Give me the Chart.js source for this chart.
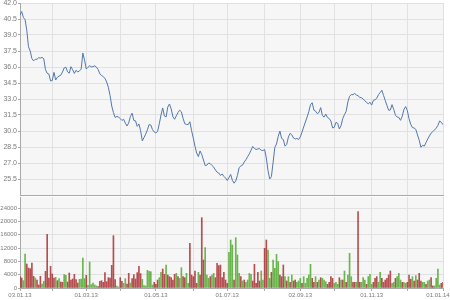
<!DOCTYPE html>
<html>
<head>
<meta charset="utf-8">
<script src="https://cdn.jsdelivr.net/npm/chart.js@4.4.0/dist/chart.umd.min.js"></script>
<style>
  html, body { margin: 0; padding: 0; background: #fff; }
  #wrap { position: relative; width: 450px; height: 300px; overflow: hidden; }
  #top { position: absolute; left: 0; top: 0; width: 450px; height: 196px; }
  #bot { position: absolute; left: 0; top: 196px; width: 450px; height: 104px; }
</style>
</head>
<body>
<div id="wrap">
  <div id="top"><canvas id="priceChart"></canvas></div>
  <div id="bot"><canvas id="volChart"></canvas></div>
</div>
<script>
// Daily close, one value per trading day (03.01.13 .. 01.01.14)
const price = [
  40.87, 41.2, 40.64, 40.44, 39.43, 37.9, 37.5, 36.79, 36.57, 36.73,
  36.72, 36.87, 36.84, 36.9, 36.77, 35.75, 35.41, 35.34, 34.69, 34.74,
  35.5, 34.78, 35.04, 35.15, 35.23, 35.53, 35.91, 35.98, 35.55, 35.42,
  36.03, 35.74, 35.4, 35.7, 35.53, 35.63, 35.8, 37.31, 36.64, 35.81,
  35.97, 36.12, 36.01, 36.04, 36.11, 35.99, 35.76, 35.36, 35.21, 35.09,
  34.94, 34.6, 34.11, 33.34, 32.34, 31.73, 31.27, 31.36, 31.32, 31.16,
  30.99, 31.1, 30.74, 30.47, 30.77, 31.36, 31.67, 30.99, 30.95, 30.44,
  30.66, 30.03, 29.07, 29.39, 29.71, 30.11, 30.6, 30.56, 30.13, 29.91,
  29.81, 29.97, 30.68, 31.5, 32.16, 31.41, 31.31, 32.25, 32.53, 32.06,
  31.34, 31.1, 31.42, 31.73, 31.95, 31.8, 31.18, 30.68, 30.62, 30.6,
  30.87, 30.03, 29.34, 28.58, 27.93, 27.6, 28.13, 27.79, 27.28, 26.76,
  26.8, 26.99, 26.94, 26.77, 26.62, 26.35, 26.14, 26.06, 25.83, 25.97,
  25.75, 25.59, 25.36, 25.63, 25.93, 25.38, 25.11, 25.32, 25.84, 26.57,
  26.72, 26.8, 27.1, 27.31, 27.59, 27.86, 28.2, 28.55, 28.36, 28.26,
  28.32, 28.35, 28.19, 28.17, 28.26, 27.47, 26.28, 25.5, 25.72, 27.07,
  28.47, 28.78, 29.49, 30.0, 29.3, 29.2, 28.58, 28.74, 29.44, 29.78,
  29.64, 29.34, 29.25, 29.3, 29.2, 29.45, 29.89, 30.38, 30.84, 31.31,
  31.81, 32.46, 32.65, 31.95, 31.86, 31.63, 31.74, 32.19, 31.45, 31.31,
  31.59, 31.27, 31.17, 30.94, 30.29, 30.35, 30.81, 30.72, 30.19, 30.51,
  31.17, 31.54, 31.85, 32.72, 33.25, 33.42, 33.4, 33.52, 33.38, 33.3,
  33.16, 33.12, 33.0, 32.83, 32.68, 32.55, 32.7, 32.43, 32.87, 32.93,
  33.07, 33.41, 33.6, 33.82, 33.34, 32.86, 32.39, 31.95, 31.97, 32.47,
  32.02, 31.48, 31.31, 31.28, 31.0, 31.38, 32.02, 32.29, 31.92, 31.15,
  30.63, 30.32, 30.28, 30.15, 29.63, 29.14, 28.47, 28.66, 28.59, 28.92,
  29.25, 29.53, 29.8, 29.94, 30.1, 30.27, 30.52, 30.94, 30.82, 30.59
];

// Daily volume
const volume = [
  3400, 3000, 2200, 10200, 7200, 6000, 5800, 7500, 3500, 3000,
  2400, 900, 3500, 1200, 2000, 5000, 16100, 3000, 6500, 4200,
  3000, 3200, 2200, 2800, 1800, 1700, 4000, 3800, 1800, 4500,
  2400, 2700, 4100, 2500, 1500, 2600, 2700, 9000, 2800, 3800,
  800, 7800, 1000, 1500, 900, 600, 400, 2000, 2200, 1700,
  4600, 1900, 3100, 3000, 6800, 15700, 2500, 600, 300, 3100,
  2000, 1400, 2800, 1200, 4400, 1500, 2800, 4000, 2700, 4600,
  6500, 4300, 2600, 700, 600, 5300, 5000, 4900, 900, 1700,
  1100, 2400, 3100, 4700, 5700, 4100, 6900, 3900, 3400, 3100,
  2400, 4100, 4400, 3400, 2900, 6100, 3400, 3100, 4400, 1400,
  13400, 3900, 3400, 5100, 1400, 4700, 3900, 21100, 8400, 12100,
  3900, 2900, 3400, 3900, 4400, 3100, 7400, 6700, 6900, 3100,
  4700, 2400, 1400, 10700, 14400, 12900, 2400, 15100, 9900, 4400,
  3400, 2100, 2400, 1700, 2400, 4400, 4100, 2100, 7100, 1400,
  4700, 2100, 5100, 2400, 11900, 14400, 11400, 2900, 4700, 8400,
  5900, 10100, 7900, 3900, 3400, 6900, 3400, 2100, 3400, 1700,
  3900, 2100, 2400, 1700, 2100, 2900, 1400, 3400, 1400, 2900,
  3900, 7100, 2900, 1700, 3400, 1700, 2400, 3100, 2900, 2400,
  1900, 1100, 1700, 3400, 2900, 1400, 1700, 1100, 3100, 2400,
  2400, 5100, 1700, 3900, 10400, 3400, 1700, 1700, 1700, 22900,
  1700, 1700, 3100, 2400, 1100, 3400, 4100, 1100, 1700, 2900,
  3400, 1700, 4700, 2900, 1700, 2400, 2900, 3900, 5100, 1400,
  1700, 2900, 3400, 4400, 2400, 1700, 1700, 1400, 1700, 3900,
  2600, 3400, 2100, 3700, 2400, 4400, 2100, 1700, 1700, 1100,
  2100, 2400, 3100, 600, 600, 2900, 5700, 900, 1400, 1700
];

// g = up day, r = down day
const volDir = (
  "rrggrrrrrg" + "rrrggrrrrr" + "rgrgrrggrr" + "rrrrrggggr" + "ggggggrrrr" +
  "rrrrrrrggr" + "rggrrgrrrr" + "rrggggg" +
  "ggrrrggrrg" + "rrrrrgrggr" + "rggrrrrrgr" + "rrgggrggrr" + "rrrrrrgggr" +
  "gggrgrgggg" + "rrrrrggrrg" + "grggggrrrg" + "rgrgrrgg" +
  "grgggggrrg" + "rgrgggrrrr" + "gggrgrgrgg" + "grrgrrgggr" + "gggrrrggrr" +
  "rrrrggrggg" + "rggrrrgrgr" + "rrggrggrrg" + "gggrr"
).split("");

// month starts (trading-day index) and their labels
const monthIdx = [0, 19, 39, 59, 80, 102, 122, 144, 165, 185, 207, 228, 249];
const monthLabels = ["03.01.13", "", "01.03.13", "", "01.05.13", "", "01.07.13", "",
  "02.09.13", "", "01.11.13", "", "01.01.14"];

const priceTicks = [25.5, 27, 28.5, 30, 31.5, 33, 34.5, 36, 37.5, 39, 40.5, 42];
const volTicks = [0, 4000, 8000, 12000, 16000, 20000, 24000];

const LINE = "#5378ad", UP = "rgba(72,165,36,0.8)", DOWN = "rgba(165,38,38,0.8)";
const GRID = "#e1e1e1", AXIS = "#a9a9a9", TXT = "#7a7a7a";
const FONT = { family: "Liberation Sans", size: 6 };
const FONT_P = { family: "Liberation Sans", size: 7 };
const days = price.map((_, i) => i);

const plotBg = {
  id: "plotBg",
  beforeDraw(c) {
    const { ctx, chartArea: a } = c;
    ctx.save();
    ctx.fillStyle = "#f6f6f6";
    ctx.fillRect(a.left, a.top, a.right - a.left, a.bottom - a.top);
    ctx.restore();
  },
};

function xAxis(showLabels) {
  return {
    type: "linear", min: 0, max: price.length - 1, offset: false,
    afterBuildTicks: (s) => { s.ticks = monthIdx.map((v) => ({ value: v })); },
    afterFit: (s) => { s.paddingLeft = 0; s.paddingRight = 0; s.height = showLabels ? 12 : 0; },
    grid: { offset: false, color: GRID, drawTicks: showLabels, tickLength: 3, tickColor: AXIS },
    border: { color: AXIS },
    ticks: {
      display: showLabels, autoSkip: false, maxRotation: 0, padding: 1, color: TXT, font: FONT,
      // last label is nudged left so it stays inside the canvas
      callback: (v, i) => (i === monthIdx.length - 1 ? monthLabels[i] + "\u00a0".repeat(6) : monthLabels[i]),
    },
  };
}

function yAxis(min, max, tickVals, fmt, font) {
  return {
    min, max,
    afterBuildTicks: (s) => { s.ticks = tickVals.map((v) => ({ value: v })); },
    afterFit: (s) => { s.width = 20; s.paddingTop = 0; s.paddingBottom = 0; },
    grid: { color: GRID, tickLength: 2, tickColor: AXIS },
    border: { color: AXIS },
    ticks: { padding: 1, color: TXT, font, autoSkip: false, callback: fmt },
  };
}

const base = {
  responsive: true, maintainAspectRatio: false, animation: false, devicePixelRatio: 1,
  plugins: { legend: { display: false }, tooltip: { enabled: false } },
};

new Chart(document.getElementById("priceChart"), {
  type: "line",
  data: {
    labels: days,
    datasets: [{ data: price, borderColor: LINE, borderWidth: 1, pointRadius: 0, tension: 0, fill: false }],
  },
  options: {
    ...base,
    layout: { padding: { left: 0, right: 7, top: 3, bottom: 1 } },
    scales: {
      x: xAxis(false),
      y: yAxis(24, 42, priceTicks, (v) => v.toFixed(1), FONT_P),
    },
  },
  plugins: [plotBg],
});

new Chart(document.getElementById("volChart"), {
  type: "bar",
  data: {
    labels: days,
    datasets: [
      { data: volume.map((v, i) => (volDir[i] === "g" ? v : null)), backgroundColor: UP,
        barThickness: 1, grouped: false, borderWidth: 0 },
      { data: volume.map((v, i) => (volDir[i] === "r" ? v : null)), backgroundColor: DOWN,
        barThickness: 1, grouped: false, borderWidth: 0 },
    ],
  },
  options: {
    ...base,
    layout: { padding: { left: 0, right: 7, top: 1, bottom: 0 } },
    scales: {
      x: xAxis(true),
      y: yAxis(0, 27300, volTicks, (v) => String(v), FONT),
    },
  },
  plugins: [plotBg],
});
</script>
</body>
</html>
